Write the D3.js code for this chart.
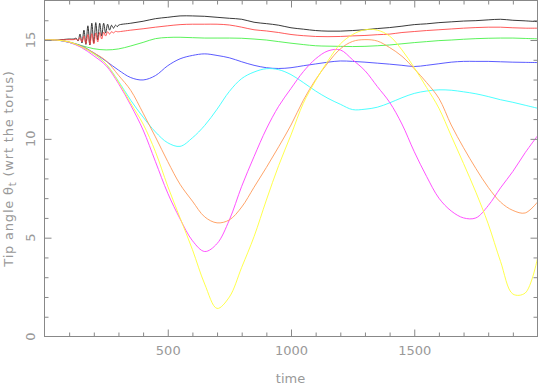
<!DOCTYPE html>
<html>
<head>
<meta charset="utf-8">
<script src="https://cdn.jsdelivr.net/npm/d3@7/dist/d3.min.js"></script>
<style>
  body { margin: 0; background: #fff; }
  text { font-family: "DejaVu Sans", sans-serif; font-size: 13px; fill: #999; }
</style>
</head>
<body>
<svg id="chart" width="538" height="385"></svg>
<script>
// time grid shared by the smooth parts of every curve
const time = [0, 50, 100, 150, 200, 250, 300, 350, 400, 450, 500, 550, 600, 650, 700, 750,
  800, 850, 900, 950, 1000, 1050, 1100, 1150, 1200, 1250, 1300, 1350, 1400, 1450, 1500,
  1550, 1600, 1650, 1700, 1750, 1800, 1850, 1900, 1950, 2000];

const black = [15, 15, 15.05, 15.2, 15.35, 15.55, 15.75, 15.85, 15.95, 16.08, 16.15, 16.22, 16.22, 16.2, 16.15, 16.1,
  16.05, 15.9, 15.83, 15.75, 15.62, 15.55, 15.48, 15.45, 15.45, 15.48, 15.52, 15.58, 15.63, 15.7, 15.78,
  15.82, 15.88, 15.92, 15.96, 15.98, 16.02, 16.05, 16.0, 15.97, 15.93];
const red = [15, 15, 15.02, 15.05, 15.1, 15.3, 15.42, 15.5, 15.57, 15.65, 15.72, 15.78, 15.8, 15.8, 15.8, 15.76,
  15.65, 15.52, 15.46, 15.38, 15.28, 15.22, 15.18, 15.17, 15.18, 15.21, 15.23, 15.27, 15.3, 15.38, 15.43,
  15.48, 15.52, 15.56, 15.6, 15.63, 15.65, 15.65, 15.62, 15.6, 15.6];
const green = [15, 15, 14.9, 14.72, 14.56, 14.5, 14.55, 14.7, 14.88, 15.07, 15.13, 15.14, 15.12, 15.1, 15.1, 15.1,
  15.09, 15.05, 15.0, 14.92, 14.84, 14.77, 14.71, 14.69, 14.68, 14.67, 14.68, 14.71, 14.75, 14.81, 14.87,
  14.92, 14.97, 15.0, 15.04, 15.07, 15.09, 15.1, 15.1, 15.08, 15.06];
const blue = [15, 15, 14.88, 14.7, 14.35, 13.93, 13.48, 13.1, 12.98, 13.2, 13.7, 14.05, 14.22, 14.3, 14.22, 14.1,
  13.9, 13.72, 13.6, 13.56, 13.6, 13.7, 13.79, 13.88, 13.94, 13.92, 13.88, 13.83, 13.78, 13.72, 13.66,
  13.72, 13.8, 13.88, 13.92, 13.92, 13.92, 13.9, 13.88, 13.87, 13.86];
const cyan = [15, 15, 14.88, 14.65, 14.3, 13.78, 12.92, 11.95, 11.1, 10.35, 9.8, 9.62, 10.05, 10.68, 11.5, 12.4,
  13.05, 13.38, 13.55, 13.5, 13.25, 12.85, 12.42, 12.05, 11.75, 11.48, 11.5, 11.6, 11.82, 12.08, 12.3,
  12.42, 12.48, 12.46, 12.38, 12.28, 12.14, 11.98, 11.85, 11.7, 11.55];
const magenta = [15, 15, 14.88, 14.62, 14.2, 13.7, 12.8, 11.7, 10.45, 8.85, 7.25, 5.95, 4.85, 4.3, 4.7, 5.9,
  7.6, 9.1, 10.5, 11.65, 12.55, 13.4, 14.05, 14.45, 14.5, 14.0, 13.45, 12.65, 11.85, 10.75, 9.35,
  8.1, 7.0, 6.35, 6.0, 6.0, 6.62, 7.52, 8.35, 9.3, 10.15];
const orange = [15, 15, 14.9, 14.68, 14.35, 13.95, 13.22, 12.45, 11.3, 10.1, 8.85, 7.7, 6.85, 6.05, 5.75, 5.9,
  6.55, 7.55, 8.55, 9.6, 10.7, 11.95, 13.0, 13.85, 14.55, 14.93, 15.02, 14.95, 14.62, 14.18, 13.55,
  12.85, 12.05, 10.7, 9.55, 8.5, 7.55, 6.8, 6.38, 6.25, 6.8];
const yellow = [15, 15, 14.9, 14.66, 14.3, 13.78, 12.88, 11.8, 10.75, 9.35, 7.6, 6.0, 4.4, 2.65, 1.42, 2.0,
  3.5, 5.05, 6.9, 8.65, 10.2, 11.8, 12.95, 13.95, 14.8, 15.28, 15.52, 15.5, 15.2, 14.5, 13.6,
  12.6, 11.55, 10.15, 8.75, 7.3, 5.7, 3.8, 2.15, 2.2, 3.95];

// early wobble of the black and red curves, sampled finer
const burstTime = [120, 128, 136, 144, 152, 160, 168, 176, 184, 192, 200, 208, 216, 224, 232,
  240, 248, 256, 264, 272, 280, 288, 296];
const blackBurst = [15.05, 15.1, 14.95, 15.3, 14.85, 15.5, 14.78, 15.72, 14.75, 15.85, 14.85, 15.88,
  15.0, 15.85, 15.2, 15.85, 15.35, 15.8, 15.5, 15.75, 15.6, 15.75, 15.68];
const redBurst = [15.02, 15.05, 14.98, 15.12, 14.9, 15.2, 14.82, 15.28, 14.78, 15.32, 14.8, 15.36,
  14.9, 15.38, 15.05, 15.4, 15.2, 15.42, 15.3, 15.42, 15.36, 15.44, 15.42];

const xMajor = [500, 1000, 1500];
const yMajor = [0, 5, 10, 15];

const series = [
  { name: "black", color: "#222", values: black, burst: blackBurst },
  { name: "red", color: "#ff4848", values: red, burst: redBurst },
  { name: "green", color: "#48f048", values: green },
  { name: "blue", color: "#4848ff", values: blue },
  { name: "cyan", color: "#38ffff", values: cyan },
  { name: "magenta", color: "#ff40ff", values: magenta },
  { name: "orange", color: "#ff9a58", values: orange },
  { name: "yellow", color: "#ffff38", values: yellow }
];

const svg = d3.select("#chart");
const x = d3.scaleLinear().domain([0, 2000]).range([44.5, 537.5]);
const y = d3.scaleLinear().domain([0, 17]).range([336.5, 0.5]);
const axisColor = "#888";

svg.append("clipPath").attr("id", "plot")
  .append("rect")
  .attr("x", x(0)).attr("y", y(17))
  .attr("width", x(2000) - x(0)).attr("height", y(0) - y(17));

// lines
const line = d3.line()
  .x(d => x(d[0]))
  .y(d => y(d[1]))
  .curve(d3.curveCatmullRom.alpha(0.5));

series.forEach(s => {
  let pts = time.map((t, i) => [t, s.values[i]]);
  if (s.burst) {
    const lo = burstTime[0], hi = burstTime[burstTime.length - 1];
    pts = pts.filter(p => p[0] < lo || p[0] > hi)
      .concat(burstTime.map((t, i) => [t, s.burst[i]]))
      .sort((a, b) => a[0] - b[0]);
  }
  svg.append("path")
    .datum(pts)
    .attr("clip-path", "url(#plot)")
    .attr("fill", "none")
    .attr("stroke", s.color)
    .attr("stroke-width", 0.9)
    .attr("d", line);
});

// ticks on all four sides, pointing inward
const xMinor = d3.range(100, 2000, 100).filter(v => v % 500 !== 0);
const yMinor = d3.range(1, 17, 1).filter(v => v % 5 !== 0);

function addAxis(axis, tx, ty) {
  const g = svg.append("g").attr("transform", `translate(${tx},${ty})`).call(axis);
  g.select(".domain").remove();
  g.selectAll("line").attr("stroke", axisColor);
  return g;
}

addAxis(d3.axisBottom(x).tickValues(xMinor).tickSize(-4).tickFormat(""), 0, y(0));
addAxis(d3.axisTop(x).tickValues(xMinor).tickSize(-4).tickFormat(""), 0, y(17));
addAxis(d3.axisTop(x).tickValues(xMajor).tickSize(-7).tickFormat(""), 0, y(17));
const bottomMajor = addAxis(d3.axisBottom(x).tickValues(xMajor).tickSizeInner(-7).tickSizeOuter(0)
  .tickPadding(9).tickFormat(d3.format("d")), 0, y(0));
bottomMajor.selectAll("text")
  .attr("fill", null)
  .style("font-family", "DejaVu Sans")
  .style("font-size", "13px");

addAxis(d3.axisLeft(y).tickValues(yMinor).tickSize(-4).tickFormat(""), x(0), 0);
addAxis(d3.axisLeft(y).tickValues(yMajor.filter(v => v > 0)).tickSize(-7).tickFormat(""), x(0), 0);
addAxis(d3.axisRight(y).tickValues(yMinor).tickSize(-4).tickFormat(""), x(2000), 0);
addAxis(d3.axisRight(y).tickValues(yMajor.filter(v => v > 0)).tickSize(-7).tickFormat(""), x(2000), 0);

// frame
svg.append("rect")
  .attr("x", x(0)).attr("y", y(17))
  .attr("width", x(2000) - x(0)).attr("height", y(0) - y(17))
  .attr("fill", "none")
  .attr("stroke", axisColor);

// rotated y tick labels
svg.selectAll(".ylab")
  .data(yMajor)
  .enter()
  .append("text")
  .attr("class", "ylab")
  .attr("text-anchor", "middle")
  .attr("transform", d => `translate(34.5,${y(d)}) rotate(-90)`)
  .text(d => d);

// axis titles
svg.append("text")
  .attr("text-anchor", "middle")
  .attr("x", x(1000) - 0.5)
  .attr("y", 383)
  .text("time");

const ytitle = svg.append("text")
  .attr("text-anchor", "middle")
  .attr("letter-spacing", "0.8px")
  .attr("transform", `translate(12.5,${(y(0) + y(17)) / 2}) rotate(-90)`);
ytitle.append("tspan").text("Tip angle \u03B8");
ytitle.append("tspan").attr("baseline-shift", "-30%").style("font-size", "10px").text("t");
ytitle.append("tspan").text(" (wrt the torus)");
</script>
</body>
</html>
